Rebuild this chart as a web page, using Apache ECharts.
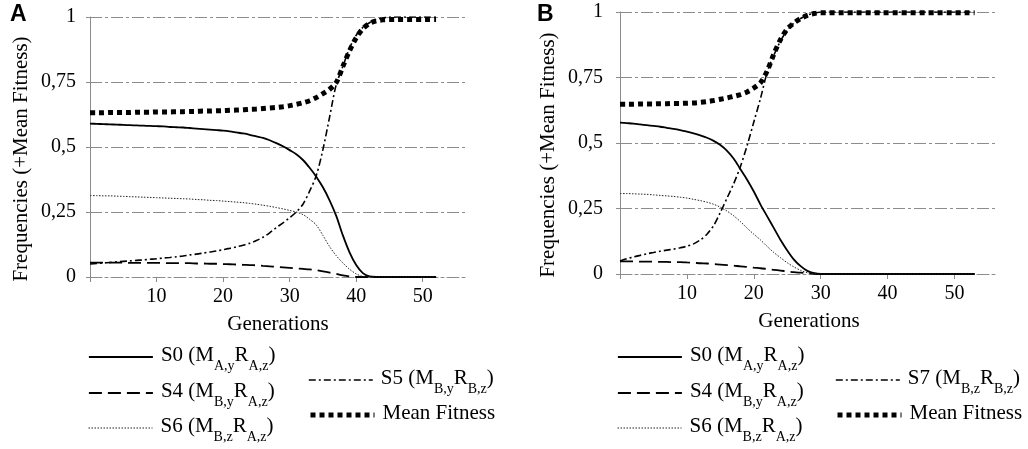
<!DOCTYPE html>
<html>
<head>
<meta charset="utf-8">
<script src="https://cdn.jsdelivr.net/npm/echarts@6/dist/echarts.min.js"></script>
<style>
html,body{margin:0;padding:0;background:#fff;}
#c{width:1028px;height:449px;}
</style>
</head>
<body>
<div id="c"></div>
<script>
// Panel A: generations 0..52
var aS0 = [0.590,0.589,0.588,0.587,0.586,0.585,0.584,0.583,0.582,0.581,0.580,0.579,0.577,0.576,0.575,0.573,0.571,0.569,0.567,0.565,0.563,0.560,0.556,0.552,0.547,0.541,0.535,0.526,0.515,0.503,0.488,0.472,0.450,0.420,0.386,0.345,0.295,0.235,0.160,0.095,0.046,0.015,0.002,0,0,0,0,0,0,0,0,0,0];
var aS4 = [0.055,0.055,0.055,0.055,0.055,0.055,0.054,0.054,0.054,0.054,0.054,0.054,0.053,0.053,0.053,0.053,0.052,0.052,0.051,0.051,0.050,0.049,0.048,0.047,0.046,0.045,0.043,0.041,0.039,0.037,0.035,0.033,0.031,0.029,0.026,0.022,0.017,0.012,0.006,0.002,0,0,0,0,0,0,0,0,0,0,0,0,0];
var aS6 = [0.313,0.313,0.312,0.312,0.311,0.310,0.309,0.308,0.307,0.306,0.305,0.304,0.303,0.302,0.301,0.300,0.298,0.297,0.295,0.294,0.292,0.290,0.288,0.286,0.283,0.280,0.276,0.272,0.267,0.262,0.256,0.250,0.240,0.222,0.200,0.160,0.117,0.082,0.054,0.030,0.012,0.002,0,0,0,0,0,0,0,0,0,0,0];
var aS5 = [0.050,0.052,0.054,0.056,0.058,0.060,0.062,0.064,0.066,0.068,0.070,0.073,0.075,0.078,0.081,0.085,0.088,0.092,0.096,0.100,0.105,0.110,0.116,0.122,0.130,0.140,0.153,0.170,0.190,0.208,0.228,0.250,0.280,0.330,0.390,0.490,0.615,0.740,0.810,0.880,0.930,0.960,0.978,0.990,0.996,1,1,1,1,1,1,1,1];
var aMF = [0.632,0.632,0.632,0.633,0.633,0.633,0.633,0.634,0.634,0.634,0.635,0.635,0.635,0.636,0.636,0.637,0.637,0.638,0.638,0.639,0.640,0.641,0.642,0.643,0.645,0.646,0.648,0.650,0.652,0.655,0.659,0.664,0.670,0.678,0.690,0.705,0.722,0.748,0.810,0.870,0.920,0.955,0.975,0.985,0.989,0.990,0.990,0.990,0.990,0.990,0.990,0.990,0.990];
// Panel B: generations 0..53
var bS0 = [0.578,0.576,0.574,0.571,0.568,0.565,0.562,0.558,0.554,0.549,0.543,0.537,0.529,0.520,0.508,0.492,0.470,0.440,0.400,0.360,0.315,0.265,0.220,0.175,0.130,0.090,0.055,0.030,0.012,0.003,0,0,0,0,0,0,0,0,0,0,0,0,0,0,0,0,0,0,0,0,0,0,0,0];
var bS4 = [0.048,0.048,0.048,0.047,0.047,0.047,0.046,0.046,0.045,0.045,0.044,0.043,0.041,0.040,0.038,0.036,0.034,0.032,0.029,0.027,0.024,0.022,0.019,0.016,0.013,0.010,0.007,0.005,0.003,0.001,0,0,0,0,0,0,0,0,0,0,0,0,0,0,0,0,0,0,0,0,0,0,0,0];
var bS6 = [0.307,0.307,0.306,0.305,0.304,0.302,0.300,0.298,0.296,0.293,0.290,0.285,0.280,0.274,0.266,0.255,0.240,0.222,0.200,0.175,0.152,0.130,0.105,0.082,0.062,0.043,0.027,0.014,0.005,0.001,0,0,0,0,0,0,0,0,0,0,0,0,0,0,0,0,0,0,0,0,0,0,0,0];
var bS7 = [0.050,0.058,0.065,0.071,0.077,0.082,0.087,0.091,0.095,0.100,0.106,0.115,0.130,0.152,0.185,0.235,0.290,0.345,0.410,0.490,0.580,0.670,0.770,0.835,0.890,0.930,0.958,0.975,0.988,0.995,1,1,1,1,1,1,1,1,1,1,1,1,1,1,1,1,1,1,1,1,1,1,1,1];
var bMF = [0.648,0.648,0.648,0.649,0.649,0.649,0.650,0.650,0.651,0.651,0.652,0.653,0.655,0.658,0.662,0.667,0.672,0.678,0.685,0.695,0.710,0.730,0.775,0.840,0.895,0.935,0.958,0.975,0.987,0.994,0.997,0.997,0.997,0.997,0.997,0.997,0.997,0.997,0.997,0.997,0.997,0.997,0.997,0.997,0.997,0.997,0.997,0.997,0.997,0.997,0.997,0.997,0.997,0.997];

var xTickValues = [0,10,20,30,40,50];
var xLabelValues = [10,20,30,40,50];
var yLabels = {0:'0', 0.25:'0,25', 0.5:'0,5', 0.75:'0,75', 1:'1'};
var legendText = {
  'S0': '{t|S0 (M}{s|A,y}{t|R}{s|A,z}{t|)}',
  'S4': '{t|S4 (M}{s|B,y}{t|R}{s|A,z}{t|)}',
  'S6': '{t|S6 (M}{s|B,z}{t|R}{s|A,z}{t|)}',
  'S5': '{t|S5 (M}{s|B,y}{t|R}{s|B,z}{t|)}',
  'S7': '{t|S7 (M}{s|B,z}{t|R}{s|B,z}{t|)}',
  'Mean Fitness': '{t|Mean Fitness}'
};

var SERIF = '"Liberation Serif","Times New Roman",serif';
var GRIDC = '#8c8c8c';

function pairs(arr){ return arr.map(function(v,i){ return [i, v]; }); }

var styles = {
  'S0': {width:1.8, type:'solid', color:'#000'},
  'S4': {width:1.8, type:[13,6], color:'#000'},
  'S6': {width:1, type:[1.5,1.5], color:'#222'},
  'S5': {width:1.6, type:[7,3,2,3], color:'#000'},
  'S7': {width:1.6, type:[7,3,2,3], color:'#000'},
  'Mean Fitness': {width:5, type:[5,4], color:'#000', cap:'butt'}
};

function mkSeries(name, arr, idx){
  return {
    type:'line', name:name, data:pairs(arr), xAxisIndex:idx, yAxisIndex:idx,
    symbol:'none', smooth:0.3, lineStyle:styles[name], itemStyle:{color:'#000'},
    animation:false, z: name==='Mean Fitness'?5:3
  };
}

function xAxis(idx){
  return {
    type:'value', gridIndex:idx, min:0, max:56.5,
    name:'Generations', nameLocation:'middle', nameGap:37,
    nameTextStyle:{fontFamily:SERIF, fontSize:21, color:'#000'},
    axisLine:{show:true, onZero:false, lineStyle:{color:GRIDC, width:1, type:[12,3,3,3]}},
    axisTick:{show:true, length:5, lineStyle:{color:GRIDC}, customValues:xTickValues},
    axisLabel:{fontFamily:SERIF, fontSize:20, color:'#000', margin:10, customValues:xLabelValues},
    splitLine:{show:false}
  };
}
function yAxis(idx, margin, gap){
  return {
    type:'value', gridIndex:idx, min:0, max:1, interval:0.25,
    name:'Frequencies (+Mean Fitness)', nameLocation:'middle', nameGap:gap,
    nameTextStyle:{fontFamily:SERIF, fontSize:21, color:'#000', padding:[0,24,0,0]},
    axisLine:{show:true, lineStyle:{color:GRIDC, width:1}},
    axisTick:{show:true, length:4, lineStyle:{color:GRIDC}},
    axisLabel:{fontFamily:SERIF, fontSize:20, color:'#000', margin:margin,
      formatter:function(v){ return yLabels[v] !== undefined ? yLabels[v] : ''; }},
    splitLine:{show:true, lineStyle:{color:GRIDC, width:1, type:[12,3,3,3]}}
  };
}

var legendTextStyle = {
  fontFamily:SERIF, color:'#000', padding:[0,0,0,3],
  rich:{
    t:{fontFamily:SERIF, fontSize:21, color:'#000', lineHeight:24, verticalAlign:'top'},
    s:{fontFamily:SERIF, fontSize:14, color:'#000', lineHeight:14, verticalAlign:'top', padding:[14,0,0,0]}
  }
};
function legend(name, left, top){
  return {
    data:[name], left:left, top:top, orient:'vertical', itemWidth:64, itemHeight:14,
    padding:0, selectedMode:false,
    itemStyle:{opacity:0},
    lineStyle:{width:'inherit', type:'inherit', cap:'inherit', color:'inherit'},
    formatter:function(n){ return legendText[n]; },
    textStyle:legendTextStyle
  };
}

var option = {
  backgroundColor:'#fff',
  animation:false,
  grid:[
    {left:90, top:17, width:376, height:260},
    {left:620, top:12, width:378, height:262}
  ],
  xAxis:[xAxis(0), xAxis(1)],
  yAxis:[yAxis(0, 14, 58), yAxis(1, 17, 61)],
  legend:[
    legend('S0', 88, 345), legend('S4', 88, 381), legend('S6', 88, 416),
    legend('S5', 308, 368), legend('Mean Fitness', 308, 403),
    legend('S0', 617, 345), legend('S4', 617, 381), legend('S6', 617, 416),
    legend('S7', 835, 368), legend('Mean Fitness', 835, 403)
  ],
  graphic:[
    {type:'text', left:10, top:3, style:{text:'A', font:'bold 23px "Liberation Sans", Arial, sans-serif', fill:'#000'}},
    {type:'text', left:537, top:3, style:{text:'B', font:'bold 23px "Liberation Sans", Arial, sans-serif', fill:'#000'}}
  ],
  series:[
    mkSeries('S0', aS0, 0), mkSeries('S4', aS4, 0), mkSeries('S6', aS6, 0), mkSeries('S5', aS5, 0), mkSeries('Mean Fitness', aMF, 0),
    mkSeries('S0', bS0, 1), mkSeries('S4', bS4, 1), mkSeries('S6', bS6, 1), mkSeries('S7', bS7, 1), mkSeries('Mean Fitness', bMF, 1)
  ]
};
var chart = echarts.init(document.getElementById('c'), null, {renderer:'canvas'});
chart.setOption(option);
</script>
</body>
</html>
